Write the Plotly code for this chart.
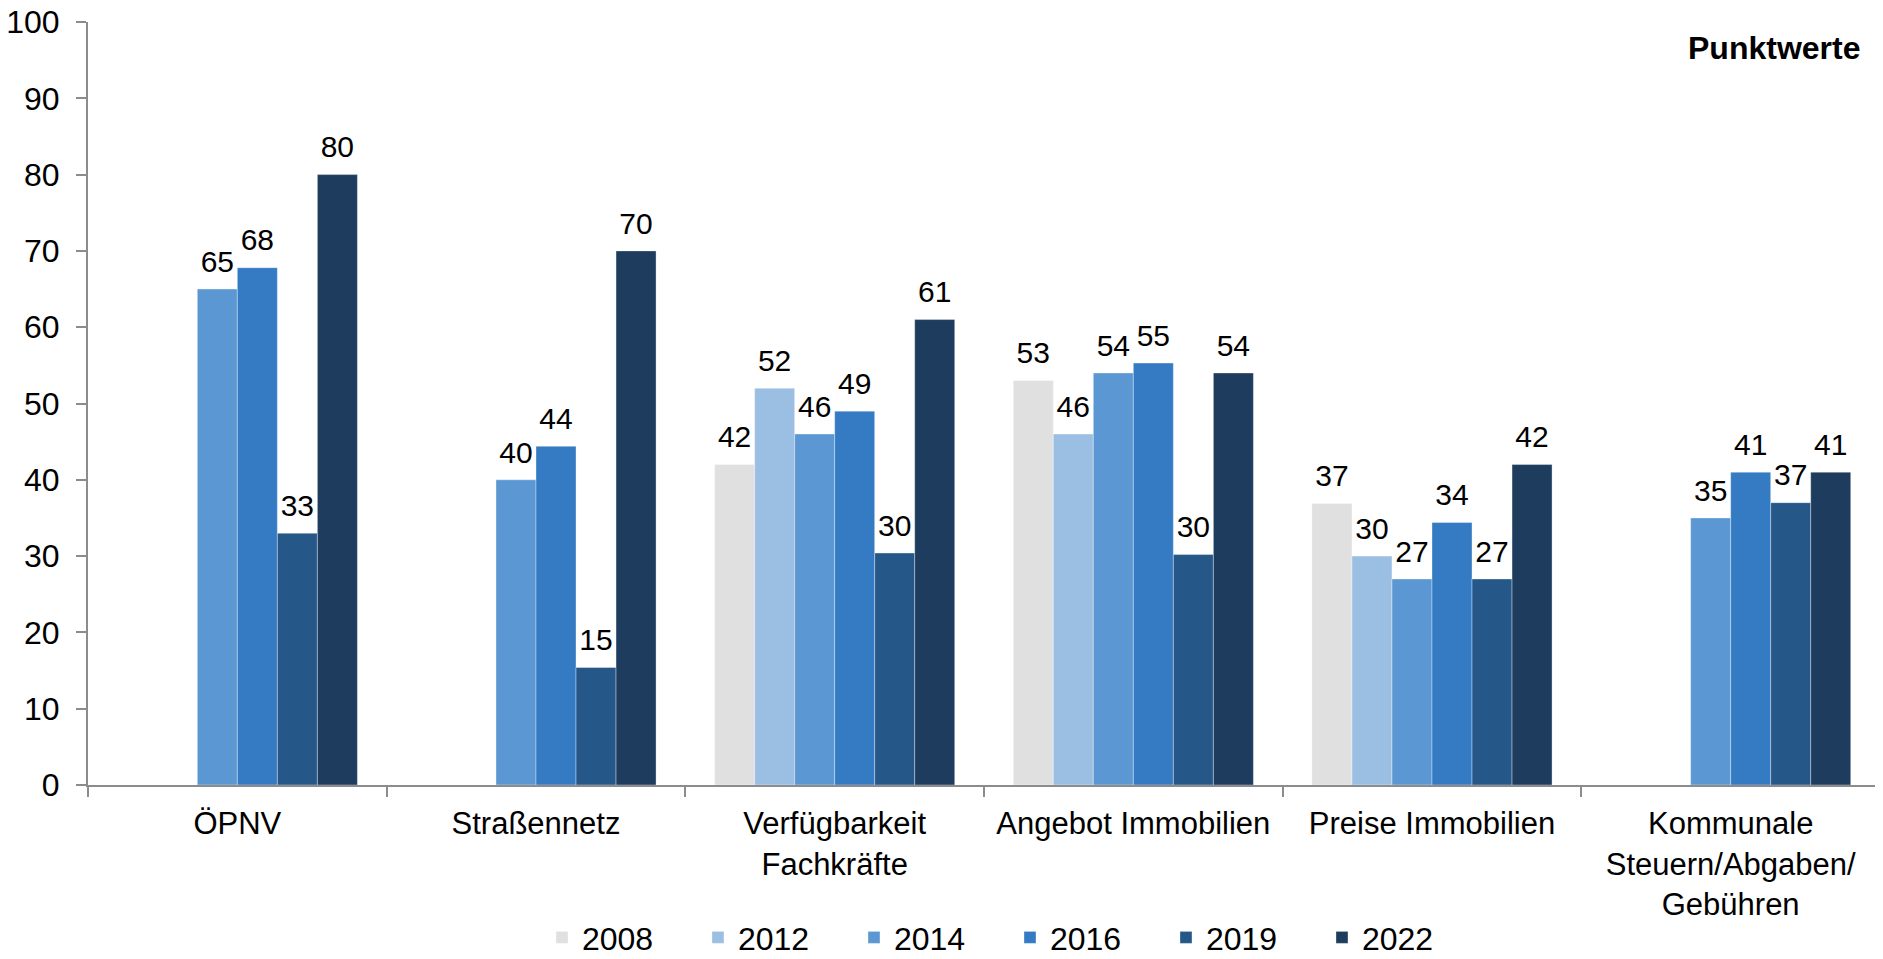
import plotly.graph_objects as go

categories = [
    "ÖPNV",
    "Straßennetz",
    "Verfügbarkeit<br>Fachkräfte",
    "Angebot Immobilien",
    "Preise Immobilien",
    "Kommunale<br>Steuern/Abgaben/<br>Gebühren",
]
years = ["2008", "2012", "2014", "2016", "2019", "2022"]

v2008 = [None, None, 42.0, 53.0, 36.9, None]
v2012 = [None, None, 52.0, 46.0, 30.0, None]
v2014 = [65.0, 40.0, 46.0, 54.0, 27.0, 35.0]
v2016 = [67.8, 44.4, 49.0, 55.3, 34.4, 41.0]
v2019 = [33.0, 15.4, 30.4, 30.2, 27.0, 37.0]
v2022 = [80.0, 70.0, 61.0, 54.0, 42.0, 41.0]

series = [v2008, v2012, v2014, v2016, v2019, v2022]
colors = ["#E0E0E0", "#9BBFE3", "#5B97D3", "#347BC3", "#255789", "#1D3C5E"]

FONT = "Liberation Sans, Arial, sans-serif"
AXIS = "#8C8C8C"
GAP = 0.196

fig = go.Figure()
for year, vals, col in zip(years, series, colors):
    fig.add_trace(go.Bar(
        name=year, x=categories, y=vals,
        marker=dict(color=col, line=dict(color="rgba(255,255,255,0.35)", width=1)),
    ))

# value labels: invisible grouped markers so the text sits a bit above the bars
for year, vals in zip(years, series):
    fig.add_trace(go.Scatter(
        x=categories, y=vals, mode="markers+text", showlegend=False,
        marker=dict(size=14, opacity=0), hoverinfo="skip",
        text=[None if v is None else f"{v:.0f}" for v in vals],
        textposition="top center", cliponaxis=False,
        textfont=dict(size=30, color="black", family=FONT),
    ))

# the page body has an 8px margin, so the figure is sized/offset for that
fig.update_layout(
    width=1875, height=951,
    barmode="group", bargap=GAP, bargroupgap=0,
    scattermode="group", scattergap=GAP,
    plot_bgcolor="white", paper_bgcolor="white",
    font=dict(family=FONT, color="black", size=31),
    margin=dict(l=80, r=3, t=14, b=174, autoexpand=False),
    legend=dict(
        orientation="h", x=0.5145, xanchor="center", y=-0.2, yanchor="middle",
        font=dict(size=32), entrywidth=111, entrywidthmode="pixels",
        traceorder="normal", itemclick=False,
    ),
    annotations=[dict(
        text="<b>Punktwerte</b>", xref="paper", yref="paper",
        x=1.0 - (1880 - 1862) / 1792, xanchor="right",
        y=1.0 - (48 - 22) / 763, yanchor="middle",
        showarrow=False, font=dict(size=32),
    )],
)

fig.update_yaxes(
    range=[0, 100], dtick=10, showgrid=False, zeroline=False, automargin=False,
    showline=True, linecolor=AXIS, linewidth=2,
    ticks="outside", ticklen=10, tickcolor=AXIS, tickwidth=2,
    tickfont=dict(size=32), ticklabelstandoff=10, ticklabeloverflow="allow",
)
fig.update_xaxes(
    showgrid=False, automargin=False, showline=True, linecolor=AXIS, linewidth=2,
    ticks="outside", ticklen=10, tickcolor=AXIS, tickwidth=2,
    tickson="boundaries", tickfont=dict(size=31), ticklabelstandoff=10,
)

fig.write_html("out.html")
